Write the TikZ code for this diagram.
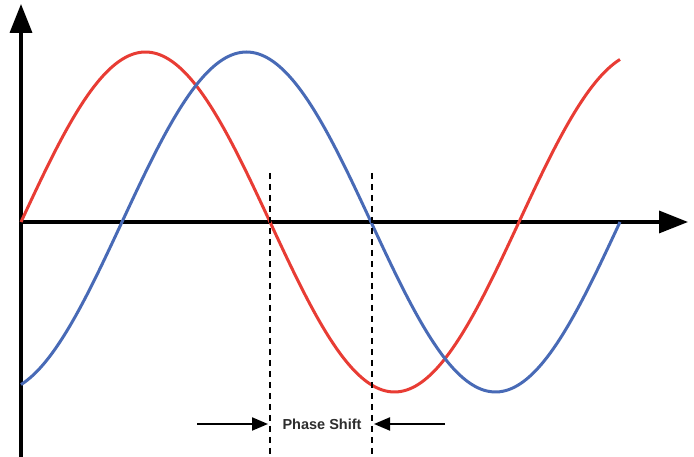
\documentclass[tikz,border=0pt]{standalone}
\usepackage{fontspec}
\setmainfont{Liberation Sans}
\usetikzlibrary{arrows.meta}
\definecolor{wred}{RGB}{232,60,52}
\definecolor{wblue}{RGB}{72,106,182}
\definecolor{txt}{RGB}{45,45,45}
\tikzset{
  axis/.style={line width=3.5pt,-{Triangle[length=29pt,width=22pt]}},
  wave/.style={line width=3pt,line join=round},
  guide/.style={line width=2.2pt,dash pattern=on 6pt off 5pt},
  marker/.style={line width=2pt,-{Triangle[length=16pt,width=13pt]}},
  label/.style={font=\bfseries\fontsize{14.5}{16}\selectfont,text=txt,inner sep=1pt}
}
\begin{document}
\begin{tikzpicture}[x=1pt,y=1pt]
\useasboundingbox (0,0) rectangle (694,457);
\coordinate (o) at (21,235);
\coordinate (ytop) at (21,453);
\coordinate (ybot) at (21,0);
\coordinate (xend) at (688,235);
\draw[axis] (ybot) -- (ytop);
\draw[axis] (o) -- (xend);
\draw[wave,wred] plot[domain=21:620,samples=200,smooth] ({\x},{235+170*sin(0.722892*(\x-21))});
\draw[wave,wblue] plot[domain=21:620,samples=200,smooth] ({\x},{235+170*sin(0.722892*(\x-122))});
\coordinate (d1t) at (270,284);
\coordinate (d1b) at (270,0);
\coordinate (d2t) at (372,284);
\coordinate (d2b) at (372,0);
\draw[guide] (d1t) -- (d1b);
\draw[guide] (d2t) -- (d2b);
\node[label] (ps) at (322,33) {Phase Shift};
\coordinate (la) at (197,33);
\coordinate (lb) at (268,33);
\coordinate (ra) at (445,33);
\coordinate (rb) at (374,33);
\draw[marker] (la) -- (lb);
\draw[marker] (ra) -- (rb);
\end{tikzpicture}
\end{document}
